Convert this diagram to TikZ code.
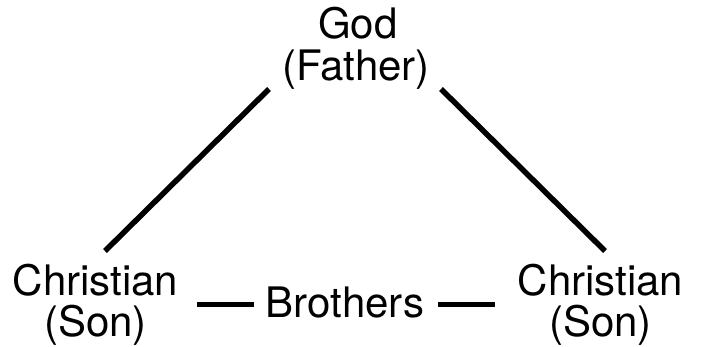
\documentclass[tikz,border=0pt]{standalone}
\usepackage{fontspec}
\setmainfont{TeX Gyre Heros}
\begin{document}
\begin{tikzpicture}[x=1pt,y=-1pt,
  lbl/.style={inner sep=0pt,anchor=base,font=\fontsize{42}{42}\selectfont},
  link/.style={line width=5.5pt}]
\useasboundingbox (0,0) rectangle (701,346);
\node[lbl] (god) at (358,38) {God};
\node[lbl] (father) at (356,80) {(Father)};
\node[lbl] (chrL) at (95.5,295) {Christian};
\node[lbl] (sonL) at (95.5,336) {(Son)};
\node[lbl] (chrR) at (600.5,295) {Christian};
\node[lbl] (sonR) at (600.5,336) {(Son)};
\node[lbl] (bro) at (345,317) {Brothers};
\coordinate (l1) at (269,89);
\coordinate (l2) at (105,251);
\coordinate (r1) at (441,89);
\coordinate (r2) at (605,251);
\coordinate (b1) at (197,304.5);
\coordinate (b2) at (254,304.5);
\coordinate (b3) at (438,304.5);
\coordinate (b4) at (495,304.5);
\draw[link] (l1) -- (l2);
\draw[link] (r1) -- (r2);
\draw[link] (b1) -- (b2);
\draw[link] (b3) -- (b4);
\end{tikzpicture}
\end{document}
